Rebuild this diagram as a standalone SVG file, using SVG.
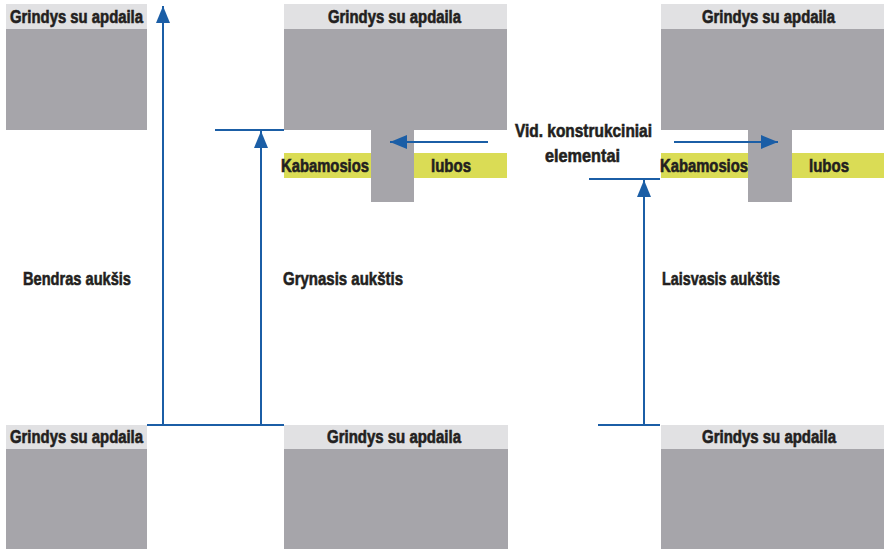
<svg xmlns="http://www.w3.org/2000/svg" width="886" height="549" viewBox="0 0 886 549">
<defs>
<style>
.band{fill:#e1e1e3}
.slab{fill:#a6a5aa}
.yel{fill:#dadc55}
.t{font-family:"Liberation Sans",Arial,sans-serif;font-weight:bold;fill:#231f20;stroke:#231f20;stroke-width:0.6}
.g{font-size:17.5px}
.l{font-size:18.5px}
.ln{stroke:#1b5ea6;stroke-width:2;fill:none}
</style>
<marker id="ah" markerUnits="userSpaceOnUse" markerWidth="17" markerHeight="14" refX="17" refY="7" orient="auto">
<path d="M0,0 L17,7 L0,14 z" fill="#1b5ea6"/>
</marker>
</defs>
<rect width="886" height="549" fill="#ffffff"/>

<g id="floor-top-left">
<rect class="band" x="6" y="4" width="141" height="25"/>
<rect class="slab" x="6" y="29" width="141" height="101"/>
<text class="t g" x="10" y="23" textLength="133" lengthAdjust="spacingAndGlyphs">Grindys su apdaila</text>
</g>

<g id="floor-top-middle">
<rect class="yel" x="284" y="153" width="223" height="25"/>
<rect class="band" x="284" y="4" width="223" height="25"/>
<rect class="slab" x="284" y="29" width="223" height="101"/>
<rect class="slab" x="371" y="129" width="43" height="73"/>
<text class="t g" x="328" y="23" textLength="133" lengthAdjust="spacingAndGlyphs">Grindys su apdaila</text>
<text class="t g" x="281" y="172" textLength="88" lengthAdjust="spacingAndGlyphs">Kabamosios</text>
<text class="t g" x="431" y="172" textLength="40" lengthAdjust="spacingAndGlyphs">lubos</text>
</g>

<g id="floor-top-right">
<rect class="yel" x="661" y="153" width="223" height="25"/>
<rect class="band" x="661" y="4" width="223" height="25"/>
<rect class="slab" x="661" y="29" width="223" height="101"/>
<rect class="slab" x="748" y="129" width="44" height="73"/>
<text class="t g" x="702" y="23" textLength="133" lengthAdjust="spacingAndGlyphs">Grindys su apdaila</text>
<text class="t g" x="660" y="172" textLength="88" lengthAdjust="spacingAndGlyphs">Kabamosios</text>
<text class="t g" x="809" y="172" textLength="40" lengthAdjust="spacingAndGlyphs">lubos</text>
</g>

<g id="floor-bottom-left">
<rect class="band" x="6" y="425" width="141" height="24"/>
<rect class="slab" x="6" y="449" width="141" height="100"/>
<text class="t g" x="10" y="443" textLength="133" lengthAdjust="spacingAndGlyphs">Grindys su apdaila</text>
</g>

<g id="floor-bottom-middle">
<rect class="band" x="284" y="425" width="224" height="24"/>
<rect class="slab" x="284" y="449" width="224" height="100"/>
<text class="t g" x="327" y="443" textLength="134" lengthAdjust="spacingAndGlyphs">Grindys su apdaila</text>
</g>

<g id="floor-bottom-right">
<rect class="band" x="661" y="425" width="223" height="24"/>
<rect class="slab" x="661" y="449" width="223" height="100"/>
<text class="t g" x="702" y="443" textLength="134" lengthAdjust="spacingAndGlyphs">Grindys su apdaila</text>
</g>

<g id="labels">
<text class="t l" x="23" y="285" textLength="108" lengthAdjust="spacingAndGlyphs">Bendras aukšis</text>
<text class="t l" x="283" y="285" textLength="120" lengthAdjust="spacingAndGlyphs">Grynasis aukštis</text>
<text class="t l" x="662" y="285" textLength="118" lengthAdjust="spacingAndGlyphs">Laisvasis aukštis</text>
<text class="t l" x="515" y="137" textLength="137" lengthAdjust="spacingAndGlyphs">Vid. konstrukciniai</text>
<text class="t l" x="545" y="162" textLength="75" lengthAdjust="spacingAndGlyphs">elementai</text>
</g>

<g id="connectors">
<line class="ln" x1="147" y1="425" x2="284" y2="425"/>
<line class="ln" x1="215" y1="130" x2="284" y2="130"/>
<line class="ln" x1="589" y1="179" x2="660" y2="179"/>
<line class="ln" x1="598" y1="425" x2="660" y2="425"/>
<line class="ln" x1="163" y1="425" x2="163" y2="6" marker-end="url(#ah)"/>
<line class="ln" x1="261" y1="425" x2="261" y2="131" marker-end="url(#ah)"/>
<line class="ln" x1="644" y1="425" x2="644" y2="180" marker-end="url(#ah)"/>
<line class="ln" x1="488" y1="142" x2="390" y2="142" marker-end="url(#ah)"/>
<line class="ln" x1="674" y1="142" x2="778" y2="142" marker-end="url(#ah)"/>
</g>
</svg>
